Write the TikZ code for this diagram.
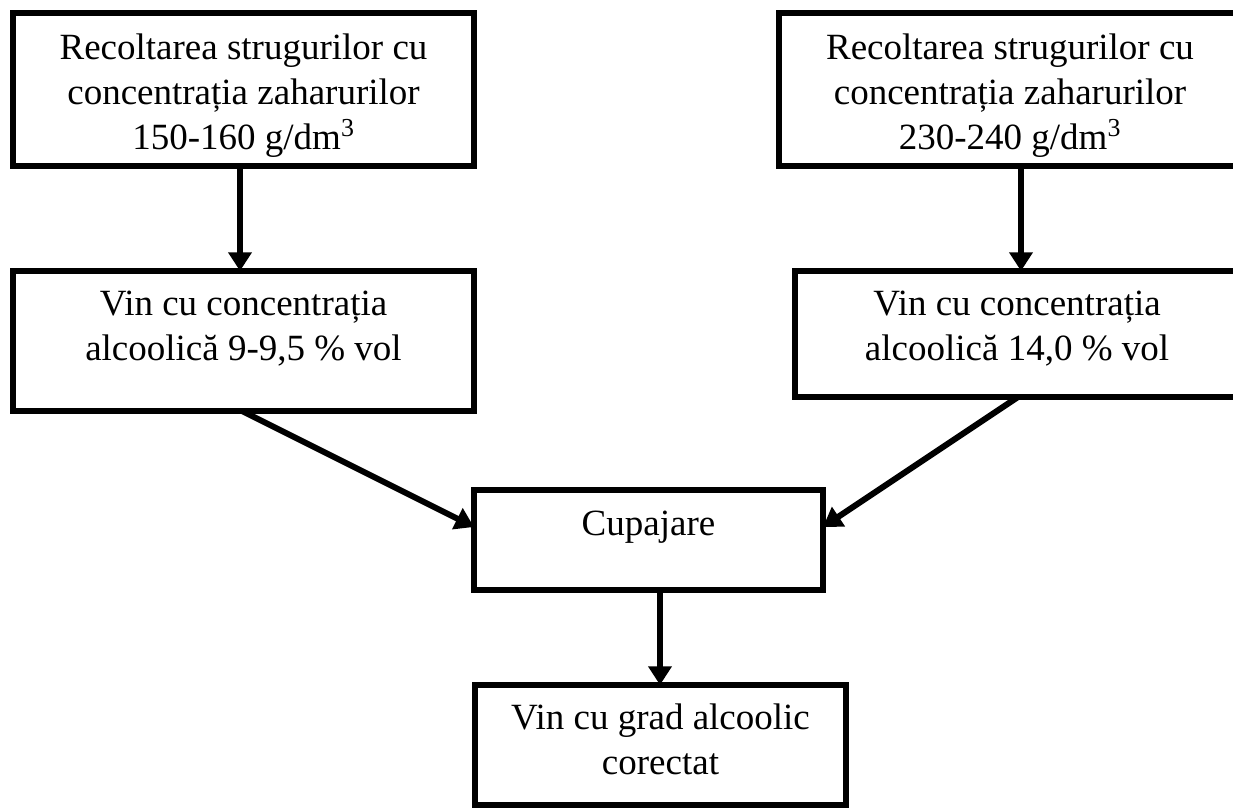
\documentclass[tikz,border=0pt]{standalone}
\usepackage{fontspec}
\setmainfont{Liberation Serif}
\usetikzlibrary{arrows.meta}
\begin{document}
\begin{tikzpicture}[x=0.75pt,y=-0.75pt,
  box/.style={draw, line width=4.5pt, rectangle, inner sep=0pt, outer sep=0pt},
  txt/.style={align=center, inner sep=0pt, font=\fontsize{27.75pt}{33.4pt}\selectfont, anchor=base},
  arr/.style={line width=4.5pt, -{Triangle[length=14pt,width=17pt]}}]
\useasboundingbox (0,0) rectangle (1233,808);
\clip (0,0) rectangle (1233,808);
\fill[white] (0,0) rectangle (1233,808);

\node[box, minimum width=345.75pt, minimum height=114.75pt] (box1) at (243.5,89.5) {};
\node[box, minimum width=346.5pt, minimum height=114.75pt] (box2) at (1010,89.5) {};
\node[box, minimum width=345.75pt, minimum height=105pt] (box3) at (243.5,341) {};
\node[box, minimum width=333pt, minimum height=94.5pt] (box4) at (1017,334) {};
\node[box, minimum width=261.75pt, minimum height=75pt] (box5) at (648.5,540) {};
\node[box, minimum width=278.25pt, minimum height=90pt] (box6) at (660.5,745) {};

\node[txt] (t1) at ([shift={(0,136)}]box1.north) {Recoltarea strugurilor cu\\concentrația zaharurilor\\150-160 g/dm\textsuperscript{3}};
\node[txt] (t2) at ([shift={(0,136)}]box2.north) {Recoltarea strugurilor cu\\concentrația zaharurilor\\230-240 g/dm\textsuperscript{3}};
\node[txt] (t3) at ([shift={(0,89)}]box3.north) {Vin cu concentrația\\alcoolică 9-9,5 \% vol};
\node[txt] (t4) at ([shift={(0,89)}]box4.north) {Vin cu concentrația\\alcoolică 14,0 \% vol};
\node[txt] (t5) at ([shift={(0,45)}]box5.north) {Cupajare};
\node[txt] (t6) at ([shift={(0,89)}]box6.north) {Vin cu grad alcoolic\\corectat};

\draw[arr] ([shift={(-3.5,0)}]box1.south) -- ([shift={(-3.5,0)}]box3.north);
\draw[arr] ([shift={(11,0)}]box2.south) -- ([shift={(4,0)}]box4.north);
\draw[arr] ([shift={(-1.5,0)}]box3.south) -- ([shift={(0,-13)}]box5.west);
\draw[arr] ([shift={(1,0)}]box4.south) -- ([shift={(0,-13)}]box5.east);
\draw[arr] ([shift={(11.5,0)}]box5.south) -- ([shift={(-0.5,0)}]box6.north);
\end{tikzpicture}
\end{document}
